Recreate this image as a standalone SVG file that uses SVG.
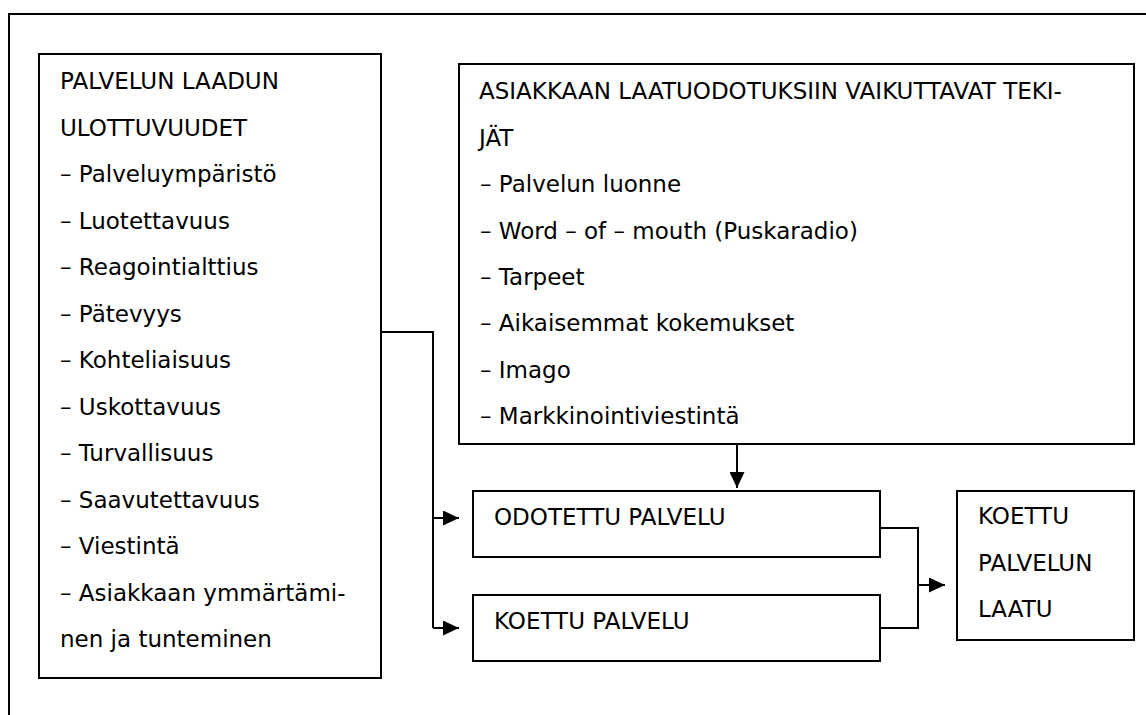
<svg xmlns="http://www.w3.org/2000/svg" width="1146" height="715" viewBox="0 0 1146 715">
<style>
.box{fill:#fff;stroke:#000;stroke-width:2}
.ln{fill:none;stroke:#000;stroke-width:2}
text{font-family:"DejaVu Sans","Liberation Sans",sans-serif;font-size:23px;fill:#000}
</style>
<defs>
<marker id="ah" markerUnits="userSpaceOnUse" markerWidth="16" markerHeight="15" refX="16" refY="7.5" orient="auto">
<path d="M0,0 L16,7.5 L0,15 z" fill="#000"/>
</marker>
</defs>
<rect width="1146" height="715" fill="#fff"/>
<g id="frame">
<path class="ln" d="M9,715 V14 H1146"/>
</g>
<g id="connectors">
<path class="ln" d="M381,332 H433 V628"/>
<path class="ln" d="M433,518 H459" marker-end="url(#ah)"/>
<path class="ln" d="M433,628 H459" marker-end="url(#ah)"/>
<path class="ln" d="M737,444 V488" marker-end="url(#ah)"/>
<path class="ln" d="M880,528 H918 V628 H880"/>
<path class="ln" d="M918,585 H945" marker-end="url(#ah)"/>
</g>
<g id="ulottuvuudet">
<rect class="box" x="39" y="54" width="342" height="624"/>
<text x="60" y="89.3">PALVELUN LAADUN</text>
<text x="60" y="135.8">ULOTTUVUUDET</text>
<text x="60" y="182.3">– Palveluympäristö</text>
<text x="60" y="228.8">– Luotettavuus</text>
<text x="60" y="275.3">– Reagointialttius</text>
<text x="60" y="321.8">– Pätevyys</text>
<text x="60" y="368.3">– Kohteliaisuus</text>
<text x="60" y="414.8">– Uskottavuus</text>
<text x="60" y="461.3">– Turvallisuus</text>
<text x="60" y="507.8">– Saavutettavuus</text>
<text x="60" y="554.3">– Viestintä</text>
<text x="60" y="600.8">– Asiakkaan ymmärtämi-</text>
<text x="60" y="647.3">nen ja tunteminen</text>
</g>
<g id="tekijat">
<rect class="box" x="459" y="64" width="675" height="380"/>
<text x="479" y="99.3">ASIAKKAAN LAATUODOTUKSIIN VAIKUTTAVAT TEKI-</text>
<text x="479" y="145.7">JÄT</text>
<text x="480" y="192.1">– Palvelun luonne</text>
<text x="480" y="238.5">– Word – of – mouth (Puskaradio)</text>
<text x="480" y="284.9">– Tarpeet</text>
<text x="480" y="331.3">– Aikaisemmat kokemukset</text>
<text x="480" y="377.7">– Imago</text>
<text x="480" y="424.1">– Markkinointiviestintä</text>
</g>
<g id="odotettu">
<rect class="box" x="473" y="491" width="407" height="66"/>
<text x="494" y="525">ODOTETTU PALVELU</text>
</g>
<g id="koettu">
<rect class="box" x="473" y="595" width="407" height="66"/>
<text x="494" y="629">KOETTU PALVELU</text>
</g>
<g id="laatu">
<rect class="box" x="957" y="491" width="177" height="149"/>
<text x="978" y="524">KOETTU</text>
<text x="978" y="570.5">PALVELUN</text>
<text x="978" y="617">LAATU</text>
</g>
</svg>
